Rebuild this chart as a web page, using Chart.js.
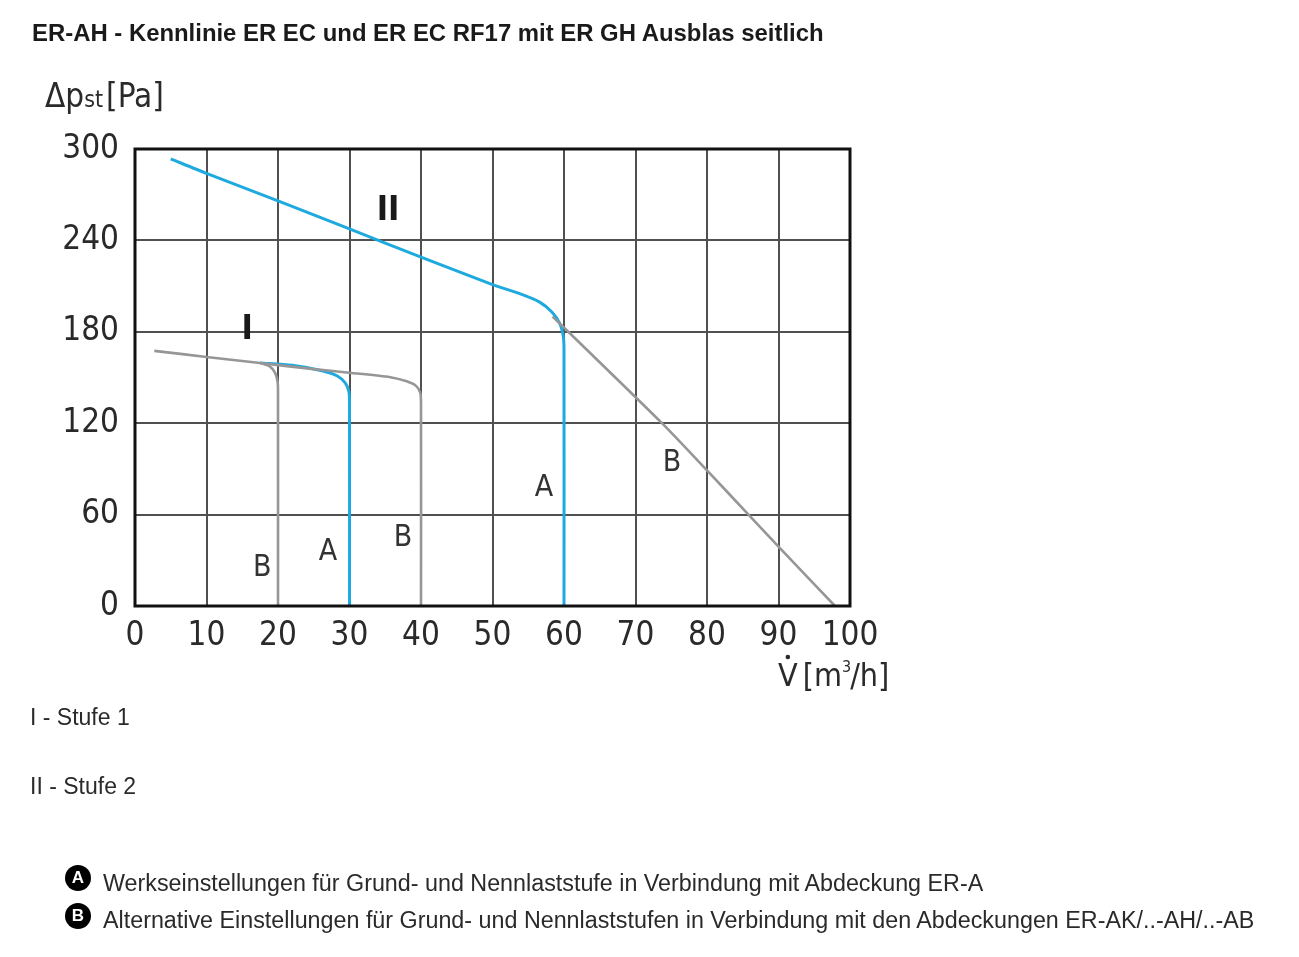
<!DOCTYPE html>
<html>
<head>
<meta charset="utf-8">
<script src="https://cdn.jsdelivr.net/npm/chart.js@4"></script>
<style>
  body { margin: 0; background: #fff; font-family: 'Liberation Sans', Arial, sans-serif; color: #2a2a2a; }
  #wrap { position: relative; width: 1299px; height: 957px; }
  #title { position: absolute; left: 32px; top: 19px; font-weight: bold; font-size: 23.9px; color: #1a1a1a; z-index: 2; white-space: nowrap; }
  #chartBox { position: absolute; left: 0; top: 0; width: 1299px; height: 720px; }
  .note { position: absolute; left: 30px; font-size: 23px; color: #2a2a2a; }
  .badge { position: absolute; left: 65px; width: 26px; height: 26px; border-radius: 50%; background: #000; color: #fff;
           font-weight: bold; font-size: 17px; line-height: 26px; text-align: center; }
  .foot { position: absolute; left: 103px; font-size: 23.3px; color: #2a2a2a; white-space: nowrap; }
</style>
</head>
<body>
<div id="wrap">
  <div id="title">ER-AH - Kennlinie ER EC und ER EC RF17 mit ER GH Ausblas seitlich</div>
  <div id="chartBox"><canvas id="myChart" width="1299" height="720"></canvas></div>
  <div class="note" style="top:704px">I - Stufe 1</div>
  <div class="note" style="top:773px">II - Stufe 2</div>
  <div class="badge" style="top:865px">A</div>
  <div class="foot" style="top:870px">Werkseinstellungen für Grund- und Nennlaststufe in Verbindung mit Abdeckung ER-A</div>
  <div class="badge" style="top:903px">B</div>
  <div class="foot" style="top:907px">Alternative Einstellungen für Grund- und Nennlaststufen in Verbindung mit den Abdeckungen ER-AK/..-AH/..-AB</div>
</div>
<script>
// Kennlinien [V m3/h, dp Pa]
const stufe1B40 = [[2.7,167.5],[10,163.5],[17.5,159.5],[25,155.5],[30.3,153],[35.7,150.2],[38,147.5],[39.3,144.5],[39.9,140],[40,133],[40,0]];
const stufe1B20 = [[17.5,159.5],[18.8,157.5],[19.6,153],[19.95,147],[20,140],[20,0]];
const stufe1A = [[17.5,159.6],[22,158],[26.3,154.3],[28.3,151],[29.4,146.5],[29.9,141],[30,134],[30,0]];
const stufe2A = [[5,293.5],[10,284],[20,266],[30,247.5],[40,229],[50,211],[53.8,205],[56.6,199.5],[58.3,193],[59.4,185.6],[59.9,177],[60,168],[60,0]];
const stufe2B = [[58.4,190],[60.6,180],[73.7,120],[80.2,88],[85.8,60],[90,39],[97.9,0]];

const xTicks = [0,10,20,30,40,50,60,70,80,90,100];
const yTicks = [0,60,120,180,240,300];

// Beschriftungen im Diagramm [text, x, y]
const curveLabels = [['II',35.4,259],['I',15.7,181],['B',17.8,25],['A',27,35],['B',37.5,44.5],['A',57.2,77.5],['B',75.1,94]];

const GRAY = 'rgb(150,150,150)';
const BLUE = 'rgb(30,170,222)';
const NARROW = "'Liberation Sans Narrow', 'DejaVu Sans Condensed', sans-serif";

function toPts(arr) {
  return arr.map(p => ({x: p[0], y: p[1]}));
}

function lineSet(arr, color, width) {
  return {
    data: toPts(arr),
    showLine: true,
    borderColor: color,
    borderWidth: width,
    pointRadius: 0,
    tension: 0.25,
    fill: false
  };
}

const deco = {
  id: 'deco',
  afterDraw(chart) {
    const c = chart.ctx;
    const a = chart.chartArea;
    const xs = chart.scales.x, ys = chart.scales.y;
    c.save();
    // Rahmen
    c.strokeStyle = '#111';
    c.lineWidth = 3;
    c.strokeRect(a.left, a.top, a.right - a.left, a.bottom - a.top);

    // Kurvenbeschriftung
    c.textAlign = 'center';
    c.textBaseline = 'middle';
    curveLabels.forEach(l => {
      if (l[0].startsWith('I')) {
        c.font = 'bold 34px ' + NARROW;
        c.fillStyle = '#1a1a1a';
      } else {
        c.font = '30px ' + NARROW;
        c.fillStyle = '#333';
      }
      c.fillText(l[0], xs.getPixelForValue(l[1]), ys.getPixelForValue(l[2]));
    });

    // Achsentitel y
    c.fillStyle = '#2a2a2a';
    c.textAlign = 'left';
    c.textBaseline = 'alphabetic';
    let x = a.left - 90, y = a.top - 42;
    c.font = '33px ' + NARROW;
    c.fillText('\u0394p', x, y);
    x += c.measureText('\u0394p').width;
    c.font = '23px ' + NARROW;
    c.fillText('st', x, y);
    x += c.measureText('st').width + 3;
    c.font = '33px ' + NARROW;
    c.fillText('[Pa]', x, y);

    // Achsentitel x
    x = a.right - 72; y = a.bottom + 80;
    c.font = '32px ' + NARROW;
    c.fillText('V', x, y);
    const vw = c.measureText('V').width;
    c.beginPath();
    c.arc(x + vw / 2, y - 29, 2.3, 0, Math.PI * 2);
    c.fill();
    x += vw + 5;
    c.fillText('[m', x, y);
    x += c.measureText('[m').width;
    c.font = '16px ' + NARROW;
    c.fillText('3', x, y - 14);
    x += c.measureText('3').width - 1;
    c.font = '32px ' + NARROW;
    c.fillText('/h]', x, y);
    c.restore();
  }
};

new Chart(document.getElementById('myChart'), {
  type: 'scatter',
  data: {
    datasets: [
      lineSet(stufe1B40, GRAY, 2.6),
      lineSet(stufe1B20, GRAY, 2.6),
      lineSet(stufe2B, GRAY, 2.6),
      lineSet(stufe1A, BLUE, 3),
      lineSet(stufe2A, BLUE, 3)
    ]
  },
  options: {
    responsive: false,
    animation: false,
    devicePixelRatio: 1,
    layout: { padding: { left: 0, top: 149, right: 449, bottom: 64 } },
    plugins: { legend: { display: false }, tooltip: { enabled: false } },
    scales: {
      x: {
        type: 'linear',
        min: 0, max: 100,
        afterBuildTicks: s => { s.ticks = xTicks.map(v => ({value: v})); },
        afterFit: s => { s.height = 50; },
        ticks: { color: '#2a2a2a', font: { family: NARROW, size: 33 }, padding: 11, maxRotation: 0, autoSkip: false },
        grid: { color: '#505050', lineWidth: 2, drawTicks: false },
        border: { display: false }
      },
      y: {
        min: 0, max: 300,
        afterBuildTicks: s => { s.ticks = yTicks.map(v => ({value: v})); },
        afterFit: s => { s.width = 135; },
        ticks: { color: '#2a2a2a', font: { family: NARROW, size: 33 }, padding: 16, autoSkip: false },
        grid: { color: '#505050', lineWidth: 2, drawTicks: false },
        border: { display: false }
      }
    }
  },
  plugins: [deco]
});
</script>
</body>
</html>
